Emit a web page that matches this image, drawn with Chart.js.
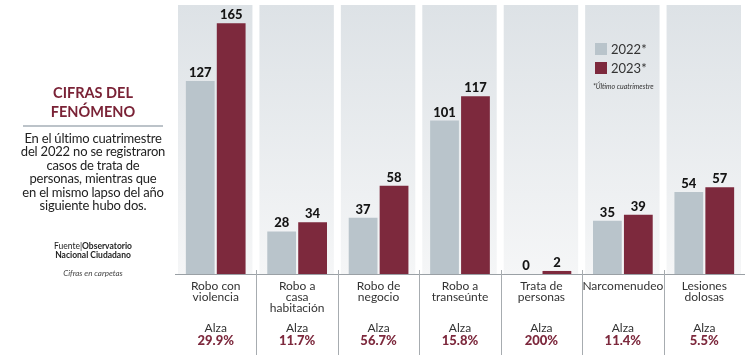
<!DOCTYPE html>
<html>
<head>
<meta charset="utf-8">
<script src="https://cdn.jsdelivr.net/npm/chart.js@4"></script>
<style>
  html, body { margin: 0; padding: 0; background: #fff; }
  #wrap { position: relative; width: 750px; height: 362px; overflow: hidden; }
  #chart { position: absolute; left: 0; top: 0; }
  #side { position: absolute; left: 13px; top: 83px; width: 160px; text-align: center; font-family: Lato, sans-serif; color: #222; }
  #side h2 { margin: 0; font-size: 14.5px; line-height: 19px; font-weight: 700; color: #7a2236; }
  #side hr { border: 0; border-top: 2px solid #bcc3c9; margin: 4px 10px 5px 10px; }
  #side p { margin: 0; font-size: 13px; line-height: 13.4px; white-space: nowrap; letter-spacing: -0.2px; }
  #side .src { margin-top: 30px; font-size: 8.5px; line-height: 8.5px; color: #222; }
  #side .note { margin-top: 9px; font-size: 8px; font-style: italic; color: #444; }
</style>
</head>
<body>
<div id="wrap">
  <canvas id="chart" width="750" height="362"></canvas>
  <div id="side">
    <h2>CIFRAS DEL<br>FENÓMENO</h2>
    <hr>
    <p>En el último cuatrimestre<br>del 2022 no se registraron<br>casos de trata de<br>personas, mientras que<br>en el mismo lapso del año<br>siguiente hubo dos.</p>
    <div class="src">Fuente|<b>Observatorio<br>Nacional Ciudadano</b></div>
    <div class="note">Cifras en carpetas</div>
  </div>
</div>
<script>
// categories and values
const categories = [
  ['Robo con', 'violencia'],
  ['Robo a', 'casa', 'habitación'],
  ['Robo de', 'negocio'],
  ['Robo a', 'transeúnte'],
  ['Trata de', 'personas'],
  ['Narcomenudeo'],
  ['Lesiones', 'dolosas']
];
const values2022 = [127, 28, 37, 101, 0, 35, 54];
const values2023 = [165, 34, 58, 117, 2, 39, 57];
const changeLabels = ['29.9%', '11.7%', '56.7%', '15.8%', '200%', '11.4%', '5.5%'];
const seriesLabels = ['2022*', '2023*'];

const grey = '#b9c4cb';
const wine = '#7d293d';
const font = 'Lato, sans-serif';

// panels behind each category, separators, value labels and the custom legend
const decorPlugin = {
  id: 'decor',
  beforeDatasetsDraw(chart) {
    const ctx = chart.ctx;
    const area = chart.chartArea;
    const x = chart.scales.x;
    const step = (area.right - area.left) / categories.length;
    const grad = ctx.createLinearGradient(0, area.top, 0, area.bottom);
    grad.addColorStop(0, '#dde2e6');
    grad.addColorStop(1, '#f5f6f7');
    ctx.save();
    ctx.fillStyle = grad;
    categories.forEach((c, i) => {
      const cx = x.getPixelForValue(i);
      ctx.fillRect(cx - step / 2 + 3, area.top, step - 7, area.bottom - area.top);
    });
    ctx.restore();
  },
  afterDatasetsDraw(chart) {
    const ctx = chart.ctx;
    const area = chart.chartArea;
    const x = chart.scales.x;
    const step = (area.right - area.left) / categories.length;
    ctx.save();

    // baseline
    ctx.strokeStyle = '#9aa0a5';
    ctx.lineWidth = 1;
    ctx.beginPath();
    ctx.moveTo(area.left, area.bottom + 0.5);
    ctx.lineTo(area.right, area.bottom + 0.5);
    ctx.stroke();

    // separators below the baseline
    ctx.strokeStyle = '#a7acb0';
    for (let i = 1; i < categories.length; i++) {
      const sx = Math.round(area.left + step * i) + 0.5;
      ctx.beginPath();
      ctx.moveTo(sx, area.bottom - 4);
      ctx.lineTo(sx, 355);
      ctx.stroke();
    }

    // values on top of bars
    ctx.fillStyle = '#151515';
    ctx.font = '900 13px ' + font;
    ctx.textAlign = 'center';
    ctx.textBaseline = 'alphabetic';
    chart.data.datasets.forEach((ds, di) => {
      chart.getDatasetMeta(di).data.forEach((bar, i) => {
        ctx.fillText(String(ds.data[i]), bar.x, bar.y - 4);
      });
    });

    // "Alza" and the change per category
    categories.forEach((c, i) => {
      const cx = x.getPixelForValue(i);
      ctx.fillStyle = '#333';
      ctx.font = '12px ' + font;
      ctx.fillText('Alza', cx, 332);
      ctx.fillStyle = wine;
      ctx.font = '900 13px ' + font;
      ctx.fillText(changeLabels[i], cx, 345);
    });

    // legend
    const lx = 595;
    const ly = [43, 62];
    chart.data.datasets.forEach((ds, di) => {
      ctx.fillStyle = ds.backgroundColor;
      ctx.fillRect(lx, ly[di], 12, 12);
      ctx.fillStyle = '#333';
      ctx.font = '13px ' + font;
      ctx.textAlign = 'left';
      ctx.fillText(ds.label, lx + 16, ly[di] + 11);
    });
    ctx.font = 'italic 7px ' + font;
    ctx.fillStyle = '#333';
    ctx.fillText('*Último cuatrimestre', lx - 2, 89);
    ctx.restore();
  }
};

new Chart(document.getElementById('chart'), {
  type: 'bar',
  data: {
    labels: categories,
    datasets: [
      { label: seriesLabels[0], data: values2022, backgroundColor: grey },
      { label: seriesLabels[1], data: values2023, backgroundColor: wine }
    ]
  },
  options: {
    responsive: false,
    animation: false,
    layout: { padding: { left: 175, right: 5, top: 5, bottom: 0 } },
    datasets: {
      bar: { categoryPercentage: 0.76, barPercentage: 0.93 }
    },
    plugins: {
      legend: { display: false },
      tooltip: { enabled: false }
    },
    scales: {
      x: {
        grid: { display: false, drawTicks: false },
        border: { display: false },
        ticks: {
          color: '#333',
          padding: 7,
          maxRotation: 0,
          autoSkip: false,
          font: { family: font, size: 12, lineHeight: 0.92 }
        },
        afterFit(scale) { scale.height = 88; }
      },
      y: {
        display: false,
        min: 0,
        max: 177
      }
    }
  },
  plugins: [decorPlugin]
});
</script>
</body>
</html>
